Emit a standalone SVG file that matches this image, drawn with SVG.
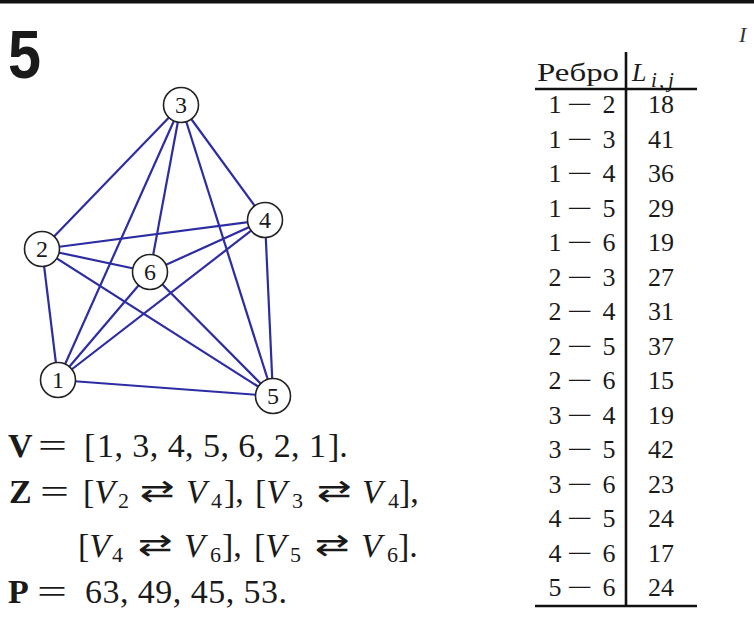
<svg xmlns="http://www.w3.org/2000/svg" width="754" height="622" viewBox="0 0 754 622">
<style>
text{font-family:"Liberation Serif","Times New Roman",serif;fill:#1a1a1a}
.e line{stroke:#2d2da3;stroke-width:2.2}
.n circle{fill:#fff;stroke:#222;stroke-width:1.6}
.n text{font-size:24px;text-anchor:middle}
.t{font-size:26px;text-anchor:middle}
.m{font-size:34px}
.b{font-weight:bold}
.i{font-style:italic}
.s{font-size:22px}
.ar{font-family:"DejaVu Sans",sans-serif;font-size:30px}
.r{stroke:#111;stroke-width:2.6}
.mi{font-size:26px}
</style>
<rect x="0" y="0" width="754" height="622" fill="#fff"/>
<rect x="0" y="0" width="754" height="3.5" fill="#111"/>
<text x="8" y="78" style="font-family:'Liberation Sans',Arial,sans-serif;font-weight:bold;font-size:68px" textLength="33" lengthAdjust="spacingAndGlyphs">5</text>
<text x="739" y="42" class="i" style="font-size:22px;fill:#333">I</text>

<g id="edges" class="e">
<line x1="58" y1="380" x2="42" y2="249"/>
<line x1="58" y1="380" x2="181" y2="105"/>
<line x1="58" y1="380" x2="265" y2="220"/>
<line x1="58" y1="380" x2="273" y2="396"/>
<line x1="58" y1="380" x2="150" y2="272"/>
<line x1="42" y1="249" x2="181" y2="105"/>
<line x1="42" y1="249" x2="265" y2="220"/>
<line x1="42" y1="249" x2="273" y2="396"/>
<line x1="42" y1="249" x2="150" y2="272"/>
<line x1="181" y1="105" x2="265" y2="220"/>
<line x1="181" y1="105" x2="273" y2="396"/>
<line x1="181" y1="105" x2="150" y2="272"/>
<line x1="265" y1="220" x2="273" y2="396"/>
<line x1="265" y1="220" x2="150" y2="272"/>
<line x1="273" y1="396" x2="150" y2="272"/>
</g>

<g id="node1" class="n"><circle cx="58" cy="380" r="17.5"/><text x="58" y="388">1</text></g>
<g id="node2" class="n"><circle cx="42" cy="249" r="17.5"/><text x="42" y="257">2</text></g>
<g id="node3" class="n"><circle cx="181" cy="105" r="17.5"/><text x="181" y="113">3</text></g>
<g id="node4" class="n"><circle cx="265" cy="220" r="17.5"/><text x="265" y="228">4</text></g>
<g id="node5" class="n"><circle cx="273" cy="396" r="17.5"/><text x="273" y="404">5</text></g>
<g id="node6" class="n"><circle cx="150" cy="272" r="17.5"/><text x="150" y="280">6</text></g>

<g id="formulas">
<text x="8" y="457" class="m b">V</text>
<text x="38" y="457" class="m" textLength="29" lengthAdjust="spacingAndGlyphs">=</text>
<text x="84" y="457" class="m">[</text>
<text x="97" y="457" class="m" textLength="229">1, 3, 4, 5, 6, 2, 1</text>
<text x="328" y="457" class="m">].</text>

<text x="9" y="503" class="m b">Z</text>
<text x="40" y="503" class="m" textLength="29" lengthAdjust="spacingAndGlyphs">=</text>
<text x="83" y="503" class="m">[<tspan class="i">V</tspan></text>
<text x="118" y="508" class="s">2</text>
<text x="140" y="501" class="ar" textLength="35" lengthAdjust="spacingAndGlyphs">⇄</text>
<text x="186" y="503" class="m i">V</text>
<text x="211" y="508" class="s">4</text>
<text x="224" y="503" class="m">],</text>
<text x="255" y="503" class="m">[<tspan class="i">V</tspan></text>
<text x="292" y="508" class="s">3</text>
<text x="317" y="501" class="ar" textLength="35" lengthAdjust="spacingAndGlyphs">⇄</text>
<text x="362" y="503" class="m i">V</text>
<text x="388" y="508" class="s">4</text>
<text x="399" y="503" class="m">],</text>

<text x="78" y="557" class="m">[<tspan class="i">V</tspan></text>
<text x="112" y="562" class="s">4</text>
<text x="138" y="555" class="ar" textLength="35" lengthAdjust="spacingAndGlyphs">⇄</text>
<text x="184" y="557" class="m i">V</text>
<text x="210" y="562" class="s">6</text>
<text x="222" y="557" class="m">],</text>
<text x="254" y="557" class="m">[<tspan class="i">V</tspan></text>
<text x="290" y="562" class="s">5</text>
<text x="315" y="555" class="ar" textLength="35" lengthAdjust="spacingAndGlyphs">⇄</text>
<text x="361" y="557" class="m i">V</text>
<text x="387" y="562" class="s">6</text>
<text x="398" y="557" class="m">].</text>

<text x="8" y="603" class="m b">P</text>
<text x="37" y="603" class="m" textLength="30" lengthAdjust="spacingAndGlyphs">=</text>
<text x="85" y="603" class="m" textLength="202">63, 49, 45, 53.</text>
</g>

<g id="table">
<line class="r" x1="626" y1="52" x2="626" y2="606"/>
<line class="r" x1="535" y1="89" x2="697" y2="89"/>
<line class="r" x1="535" y1="606" x2="697" y2="606"/>
<text x="537" y="81" style="font-size:26px" textLength="82" lengthAdjust="spacingAndGlyphs">Ребро</text>
<text x="632" y="81" class="i" style="font-size:26px">L</text>
<text y="87" class="i" style="font-size:21px"><tspan x="651">i</tspan><tspan x="659">,</tspan><tspan x="668">j</tspan></text>
<g class="t">
<text y="113"><tspan x="555">1</tspan><tspan x="609">2</tspan><tspan x="661">18</tspan></text>
<text y="147.5"><tspan x="555">1</tspan><tspan x="609">3</tspan><tspan x="661">41</tspan></text>
<text y="182"><tspan x="555">1</tspan><tspan x="609">4</tspan><tspan x="661">36</tspan></text>
<text y="216.5"><tspan x="555">1</tspan><tspan x="609">5</tspan><tspan x="661">29</tspan></text>
<text y="251"><tspan x="555">1</tspan><tspan x="609">6</tspan><tspan x="661">19</tspan></text>
<text y="285.5"><tspan x="555">2</tspan><tspan x="609">3</tspan><tspan x="661">27</tspan></text>
<text y="320"><tspan x="555">2</tspan><tspan x="609">4</tspan><tspan x="661">31</tspan></text>
<text y="354.5"><tspan x="555">2</tspan><tspan x="609">5</tspan><tspan x="661">37</tspan></text>
<text y="389"><tspan x="555">2</tspan><tspan x="609">6</tspan><tspan x="661">15</tspan></text>
<text y="423.5"><tspan x="555">3</tspan><tspan x="609">4</tspan><tspan x="661">19</tspan></text>
<text y="458"><tspan x="555">3</tspan><tspan x="609">5</tspan><tspan x="661">42</tspan></text>
<text y="492.5"><tspan x="555">3</tspan><tspan x="609">6</tspan><tspan x="661">23</tspan></text>
<text y="527"><tspan x="555">4</tspan><tspan x="609">5</tspan><tspan x="661">24</tspan></text>
<text y="561.5"><tspan x="555">4</tspan><tspan x="609">6</tspan><tspan x="661">17</tspan></text>
<text y="596"><tspan x="555">5</tspan><tspan x="609">6</tspan><tspan x="661">24</tspan></text>
</g>
<g class="mi">
<text x="567" y="113" textLength="26" lengthAdjust="spacingAndGlyphs">−</text>
<text x="567" y="147.5" textLength="26" lengthAdjust="spacingAndGlyphs">−</text>
<text x="567" y="182" textLength="26" lengthAdjust="spacingAndGlyphs">−</text>
<text x="567" y="216.5" textLength="26" lengthAdjust="spacingAndGlyphs">−</text>
<text x="567" y="251" textLength="26" lengthAdjust="spacingAndGlyphs">−</text>
<text x="567" y="285.5" textLength="26" lengthAdjust="spacingAndGlyphs">−</text>
<text x="567" y="320" textLength="26" lengthAdjust="spacingAndGlyphs">−</text>
<text x="567" y="354.5" textLength="26" lengthAdjust="spacingAndGlyphs">−</text>
<text x="567" y="389" textLength="26" lengthAdjust="spacingAndGlyphs">−</text>
<text x="567" y="423.5" textLength="26" lengthAdjust="spacingAndGlyphs">−</text>
<text x="567" y="458" textLength="26" lengthAdjust="spacingAndGlyphs">−</text>
<text x="567" y="492.5" textLength="26" lengthAdjust="spacingAndGlyphs">−</text>
<text x="567" y="527" textLength="26" lengthAdjust="spacingAndGlyphs">−</text>
<text x="567" y="561.5" textLength="26" lengthAdjust="spacingAndGlyphs">−</text>
<text x="567" y="596" textLength="26" lengthAdjust="spacingAndGlyphs">−</text>
</g>
</g>
</svg>
